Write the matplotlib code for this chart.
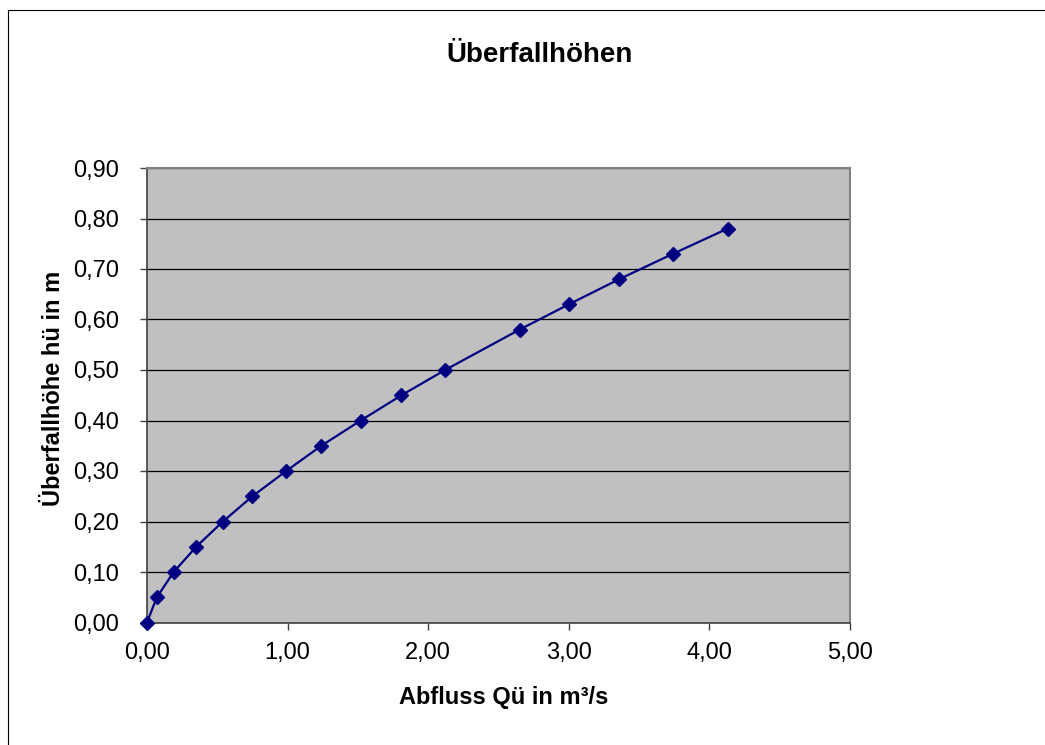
import matplotlib
matplotlib.use("Agg")
import matplotlib.pyplot as plt
from matplotlib.ticker import FuncFormatter, MultipleLocator
from matplotlib.lines import Line2D

# Abfluss Qü (m³/s) und Überfallhöhe hü (m)
abfluss = [0.00, 0.07, 0.19, 0.35, 0.54, 0.75, 0.99, 1.24, 1.52, 1.81,
           2.12, 2.65, 3.00, 3.36, 3.74, 4.13]
hoehe = [0.00, 0.05, 0.10, 0.15, 0.20, 0.25, 0.30, 0.35, 0.40, 0.45,
         0.50, 0.58, 0.63, 0.68, 0.73, 0.78]

titel = "Überfallhöhen"
x_label = "Abfluss Qü in m³/s"
y_label = "Überfallhöhe hü in m"

plt.rcParams['font.family'] = ['Liberation Sans', 'DejaVu Sans']

W, H = 1045, 745
fig = plt.figure(figsize=(W / 100, H / 100), dpi=100)

# Rahmen links und oben (wie im Original abgeschnitten)
fig.add_artist(Line2D([8 / W, 8 / W], [0, 1 - 10 / H], color='black', lw=0.8,
                      transform=fig.transFigure))
fig.add_artist(Line2D([8 / W, 1], [1 - 10 / H, 1 - 10 / H], color='black', lw=0.8,
                      transform=fig.transFigure))

ax = fig.add_axes([147 / W, 1 - 622.5 / H, 703 / W, 454.5 / H])
ax.set_facecolor('#C0C0C0')

ax.plot(abfluss, hoehe, color='#000080', lw=1.6, marker='D', markersize=7.5,
        markerfacecolor='#000080', markeredgecolor='#000080', clip_on=False, zorder=3)

ax.set_xlim(0, 5)
ax.set_ylim(0, 0.9)
ax.xaxis.set_major_locator(MultipleLocator(1))
ax.yaxis.set_major_locator(MultipleLocator(0.1))
komma = FuncFormatter(lambda v, p: f"{v:.2f}".replace('.', ','))
ax.xaxis.set_major_formatter(komma)
ax.yaxis.set_major_formatter(komma)

ax.grid(axis='y', color='black', lw=0.9)
ax.set_axisbelow(True)

for s in ['top', 'right']:
    ax.spines[s].set_color('#808080')
    ax.spines[s].set_linewidth(1.5)
for s in ['left', 'bottom']:
    ax.spines[s].set_color('#404040')
    ax.spines[s].set_linewidth(1.2)

ax.tick_params(direction='out', length=5, width=1, color='#404040', labelsize=17)
ax.tick_params(axis='x', pad=9)
ax.tick_params(axis='y', pad=15)

ax.set_xlabel(x_label, fontsize=17, fontweight='bold', va='center')
ax.xaxis.set_label_coords(0.508, -0.166)
ax.set_ylabel(y_label, fontsize=17, fontweight='bold', va='center')
ax.yaxis.set_label_coords(-0.1337, 0.516)
fig.text(539.5 / W, 1 - 55 / H, titel, fontsize=20, fontweight='bold',
         ha='center', va='center')

fig.savefig('out.png', dpi=100, facecolor='white')
